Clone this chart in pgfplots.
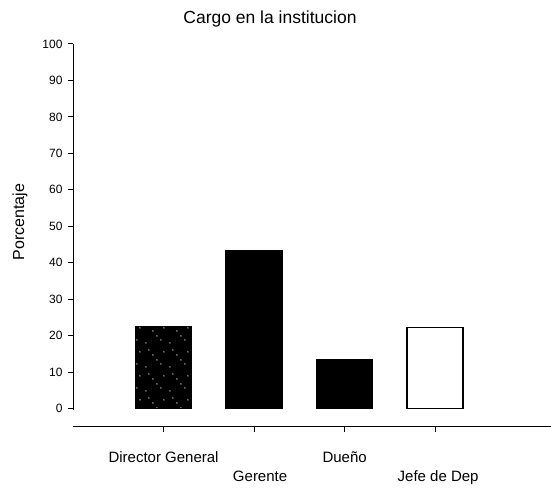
\documentclass[border=0pt]{standalone}
\usepackage{pgfplots}
\pgfplotsset{compat=1.18}
\usepackage{fontspec}
\setmainfont{Liberation Sans}
\usetikzlibrary{patterns}
\pgfdeclarepatternformonly{sparsedots}{\pgfqpoint{-1pt}{-1pt}}{\pgfqpoint{25pt}{25pt}}{\pgfqpoint{24pt}{24pt}}{%
 \pgfpathcircle{\pgfqpoint{2pt}{3pt}}{0.7pt}%
 \pgfpathcircle{\pgfqpoint{9pt}{15pt}}{0.7pt}%
 \pgfpathcircle{\pgfqpoint{17pt}{6pt}}{0.7pt}%
 \pgfpathcircle{\pgfqpoint{5pt}{20pt}}{0.7pt}%
 \pgfpathcircle{\pgfqpoint{20pt}{18pt}}{0.7pt}%
 \pgfpathcircle{\pgfqpoint{13pt}{10pt}}{0.7pt}%
 \pgfusepath{fill}}
\begin{document}
\begin{tikzpicture}
\begin{axis}[
 scale only axis, width=478pt, height=383pt,
 xmin=0, xmax=5.28, ymin=-5, ymax=100,
 clip=false,
 axis x line=bottom, axis y line=left,
 axis line style={-, line width=1pt},
 y axis line style={shorten <=17pt},
 ytick={0,10,...,100},
 xtick={1,2,3,4},
 xticklabels={Director General,\mbox{}\\[13pt]\hspace*{12pt}Gerente,Dueño,\mbox{}\\[13pt]\hspace*{6pt}Jefe de Dep},
 xticklabel style={align=center, font=\fontsize{15}{17}\selectfont, yshift=-16pt},
 yticklabel style={font=\fontsize{12}{14}\selectfont, xshift=-2pt},
 /pgf/number format/assume math mode=true,
 tick align=outside,
 major tick length=5pt,
 tick style={line width=1pt, black},
 ybar, bar width=56pt, bar shift=0pt,
 title={Cargo en la institucion},
 title style={at={(axis description cs:0.412,1)}, anchor=base, yshift=14pt, font=\fontsize{17.5}{20}\selectfont},
 ylabel={Porcentaje},
 ylabel style={at={(axis description cs:-0.111,0.535)}, anchor=center, font=\fontsize{16}{18}\selectfont},
]
\addplot[draw=black, line width=1.3pt, fill=black, postaction={pattern=sparsedots, pattern color=white}] coordinates {(1,22.5)};
\addplot[draw=black, line width=1.3pt, fill=black] coordinates {(2,43.3)};
\addplot[draw=black, line width=1.3pt, fill=black] coordinates {(3,13.4)};
\addplot[draw=black, line width=1.3pt, fill=white] coordinates {(4,22.3)};
\coordinate (bbbl) at (axis cs:-0.807,-22.27);
\coordinate (bbtr) at (axis cs:5.28,112.06);
\end{axis}
\pgfresetboundingbox
\useasboundingbox (bbbl) rectangle (bbtr);
\end{tikzpicture}
\end{document}
